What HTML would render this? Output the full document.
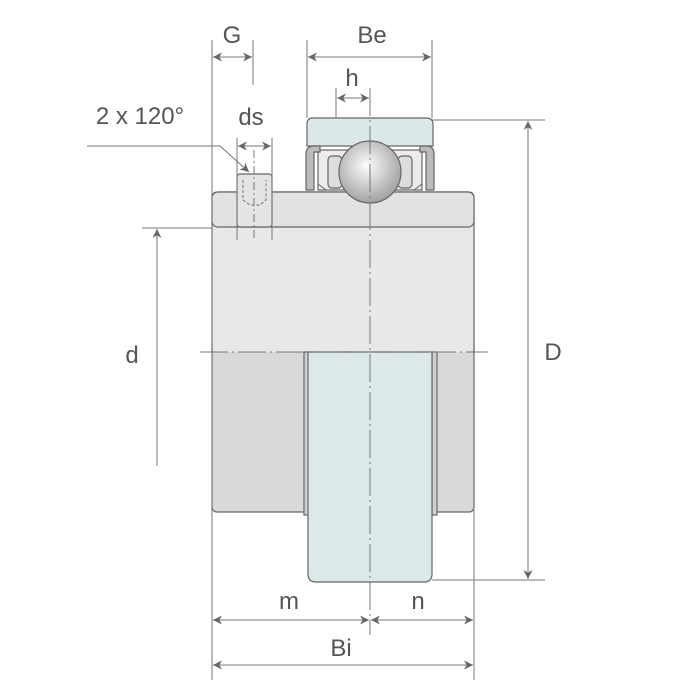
<!DOCTYPE html>
<html><head><style>
html,body{margin:0;padding:0;background:#fff;}
svg{display:block}
text{font-family:"Liberation Sans",sans-serif;font-size:24px;fill:#555;text-anchor:middle}
</style></head><body>
<svg width="700" height="700" viewBox="0 0 700 700" xmlns="http://www.w3.org/2000/svg">
<defs>
<marker id="a" viewBox="0 0 10 10" refX="10" refY="5" markerWidth="13" markerHeight="9" orient="auto-start-reverse" markerUnits="userSpaceOnUse"><path d="M0,0 L10,5 L0,10 L3,5 z" fill="#666"/></marker>
<radialGradient id="b" cx="0.45" cy="0.4" r="0.65"><stop offset="0" stop-color="#fdfdfd"/><stop offset="1" stop-color="#9a9a9a"/></radialGradient>
</defs>
<g stroke="#666" stroke-width="1.2" fill="none">
<rect x="212" y="340" width="262" height="172" rx="5" fill="#d9d9d9"/>
<rect x="212" y="192" width="262" height="160" rx="6" fill="#e8e8e8" stroke="none"/>
<path d="M212,352 V198 Q212,192 218,192 H468 Q474,192 474,198 V352" fill="none"/>
<rect x="212" y="192" width="262" height="35" rx="6" fill="#e2e2e2"/>
<rect x="304" y="352" width="5" height="163" fill="#d0d0d0"/>
<rect x="432" y="352" width="5" height="163" fill="#d0d0d0"/>
<path d="M308,352 H432 V574 Q432,582 424,582 H316 Q308,582 308,574 Z" fill="#dde9e9"/>
<rect x="237" y="174" width="35" height="53" rx="3" fill="#e4e4e4"/>
<path d="M243,180 V200 L250,205 H260 L266,200 V180" stroke-dasharray="3,2" stroke-width="0.9"/>
<path d="M307,146 V124 Q307,118 313,118 H426 Q433,118 433,124 V146 Z" fill="#dce8e8"/>
<rect x="318" y="150" width="104" height="40" fill="#ececec"/>
<path d="M306,190 V154 Q306,146 314,146 H320 V152 H314 V190 Z" fill="#bbb"/>
<path d="M434,190 V154 Q434,146 426,146 H420 V152 H426 V190 Z" fill="#bbb"/>
<path d="M318,160 V184 L326,190" stroke-width="1"/>
<path d="M422,160 V184 L414,190" stroke-width="1"/>
<rect x="328" y="156" width="14" height="32" rx="4" fill="#ddd"/>
<rect x="398" y="156" width="14" height="32" rx="4" fill="#ddd"/>
<circle cx="370" cy="172" r="31" fill="url(#b)"/>
</g>
<g stroke="#777" stroke-width="1" fill="none">
<line x1="212" y1="40" x2="212" y2="680"/>
<line x1="253" y1="40" x2="253" y2="85"/>
<line x1="307" y1="40" x2="307" y2="118"/>
<line x1="432" y1="40" x2="432" y2="118"/>
<line x1="336" y1="88" x2="336" y2="118"/>
<line x1="237" y1="138" x2="237" y2="240"/>
<line x1="272" y1="138" x2="272" y2="240"/>
<line x1="474" y1="510" x2="474" y2="680"/>
<line x1="432" y1="120" x2="545" y2="120"/>
<line x1="432" y1="580" x2="545" y2="580"/>
<line x1="142" y1="228" x2="212" y2="228"/>
<line x1="370" y1="88" x2="370" y2="635" stroke-dasharray="28,4,2,4"/>
<line x1="254" y1="150" x2="254" y2="240" stroke-dasharray="8,3,2,3"/>
<line x1="200" y1="352" x2="488" y2="352" stroke-dasharray="28,4,2,4"/>
<path d="M87,146 H220 L249,172" marker-end="url(#a)"/>
<line x1="213" y1="57" x2="252" y2="57" marker-start="url(#a)" marker-end="url(#a)"/>
<line x1="308" y1="57" x2="431" y2="57" marker-start="url(#a)" marker-end="url(#a)"/>
<line x1="337" y1="98" x2="369" y2="98" marker-start="url(#a)" marker-end="url(#a)"/>
<line x1="238" y1="146" x2="271" y2="146" marker-start="url(#a)" marker-end="url(#a)"/>
<line x1="528" y1="121" x2="528" y2="579" marker-start="url(#a)" marker-end="url(#a)"/>
<line x1="157" y1="229" x2="157" y2="466" marker-start="url(#a)"/>
<line x1="213" y1="620" x2="369" y2="620" marker-start="url(#a)" marker-end="url(#a)"/>
<line x1="371" y1="620" x2="473" y2="620" marker-start="url(#a)" marker-end="url(#a)"/>
<line x1="213" y1="665" x2="473" y2="665" marker-start="url(#a)" marker-end="url(#a)"/>
</g>
<text x="232" y="43">G</text>
<text x="372" y="43">Be</text>
<text x="352" y="86">h</text>
<text x="140" y="124">2 x 120°</text>
<text x="251" y="125">ds</text>
<text x="132" y="363">d</text>
<text x="553" y="360">D</text>
<text x="289" y="609">m</text>
<text x="418" y="609">n</text>
<text x="341" y="656">Bi</text>
</svg>
</body></html>
